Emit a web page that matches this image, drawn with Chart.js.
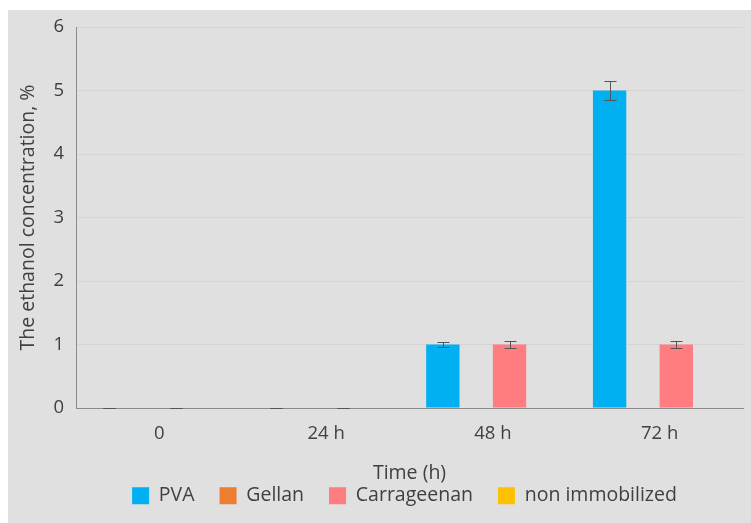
<!DOCTYPE html>
<html>
<head>
<meta charset="utf-8">
<script src="https://cdn.jsdelivr.net/npm/chart.js@4/dist/chart.umd.min.js"></script>
<style>
  html, body { margin: 0; padding: 0; background: #ffffff; }
  #frame { position: absolute; left: 8px; top: 10px; width: 743px; height: 513px; background: #e0e0e0; }
  canvas { display: block; }
</style>
</head>
<body>
<div id="frame"><canvas id="chart" width="743" height="513"></canvas></div>
<script>
// Sampling times and measured ethanol concentration (%) per carrier
const timePoints = ['0', '24 h', '48 h', '72 h'];
const pva = [0, 0, 1, 5];
const pvaErr = [0, 0, 0.035, 0.15];
const gellan = [null, null, null, null];
const carrageenan = [0, 0, 1, 1];
const carrageenanErr = [0, 0, 0.055, 0.055];
const nonImmobilized = [null, null, null, null];
const yTicks = [0, 1, 2, 3, 4, 5, 6];
const yTitle = 'The ethanol concentration, %';
const xTitle = 'Time (h)';

const TEXT = '#404040';
const FAMILY = "'Open Sans', 'DejaVu Sans', sans-serif";
const TICK_FONT = { family: FAMILY, size: 18.5 };
const LABEL_FONT = { family: FAMILY, size: 19.5 };

// Standard deviation whiskers drawn on top of the bars
const errorBars = {
  id: 'errorBars',
  afterDatasetsDraw(chart) {
    const { ctx } = chart;
    const y = chart.scales.y;
    ctx.save();
    ctx.strokeStyle = '#555555';
    ctx.lineWidth = 1;
    chart.data.datasets.forEach((ds, i) => {
      if (!ds.errors) return;
      const meta = chart.getDatasetMeta(i);
      meta.data.forEach((bar, j) => {
        const v = ds.data[j];
        const e = ds.errors[j];
        if (v == null || e == null) return;
        const x = Math.round(bar.x) + 0.5;
        const top = Math.round(y.getPixelForValue(v + e)) + 0.5;
        const bot = Math.round(y.getPixelForValue(Math.max(0, v - e))) + 0.5;
        const half = 6;
        ctx.beginPath();
        ctx.moveTo(x, top); ctx.lineTo(x, bot);
        ctx.moveTo(x - half, top); ctx.lineTo(x + half, top);
        ctx.moveTo(x - half, bot); ctx.lineTo(x + half, bot);
        ctx.stroke();
      });
    });
    ctx.restore();
  }
};

// Moves the legend row up under the axis title
const legendOffset = {
  id: 'legendOffset',
  afterLayout(chart, args, opts) {
    const lg = chart.legend;
    if (!lg) return;
    lg.top -= opts.dy;
    lg.left += opts.dx; lg.right += opts.dx;
  }
};

new Chart(document.getElementById('chart'), {
  type: 'bar',
  data: {
    labels: timePoints,
    datasets: [
      { label: 'PVA', data: pva, errors: pvaErr, backgroundColor: '#00b0f0' },
      { label: 'Gellan', data: gellan, backgroundColor: '#ed7d31' },
      { label: 'Carrageenan', data: carrageenan, errors: carrageenanErr, backgroundColor: '#ff7c80' },
      { label: 'non immobilized', data: nonImmobilized, backgroundColor: '#ffc000' }
    ]
  },
  options: {
    responsive: false,
    animation: false,
    devicePixelRatio: 1,
    categoryPercentage: 0.8,
    barPercentage: 1.0,
    layout: { padding: { top: 17, right: 8, left: 0, bottom: 0 } },
    scales: {
      x: {
        grid: { display: false, drawTicks: false },
        border: { color: '#8a8a8a', width: 1 },
        ticks: { color: TEXT, font: TICK_FONT, padding: 15, maxRotation: 0 },
        title: { display: true, text: xTitle, color: TEXT, font: LABEL_FONT, padding: { top: 0, bottom: 0 } },
        afterFit(scale) { scale.height = 77; }
      },
      y: {
        min: 0,
        max: 6,
        afterBuildTicks(scale) { scale.ticks = yTicks.map(v => ({ value: v })); },
        grid: { color: '#d5d5d5', lineWidth: 1, drawTicks: false },
        border: { color: '#8a8a8a', width: 1 },
        ticks: { color: TEXT, font: TICK_FONT, padding: 12 },
        title: { display: true, text: yTitle, color: TEXT, font: LABEL_FONT, padding: { top: 9, bottom: 0 } },
        afterFit(scale) {
          scale.width = 68;
          scale.paddingTop = 0;
          scale.paddingBottom = 0;
        }
      }
    },
    plugins: {
      tooltip: { enabled: false },
      legend: {
        position: 'bottom',
        fullSize: false,
        maxHeight: 38,
        labels: { color: TEXT, font: LABEL_FONT, boxWidth: 17, boxHeight: 17, padding: 25 }
      },
      legendOffset: { dx: -5, dy: 24 }
    }
  },
  plugins: [errorBars, legendOffset]
});
</script>
</body>
</html>
